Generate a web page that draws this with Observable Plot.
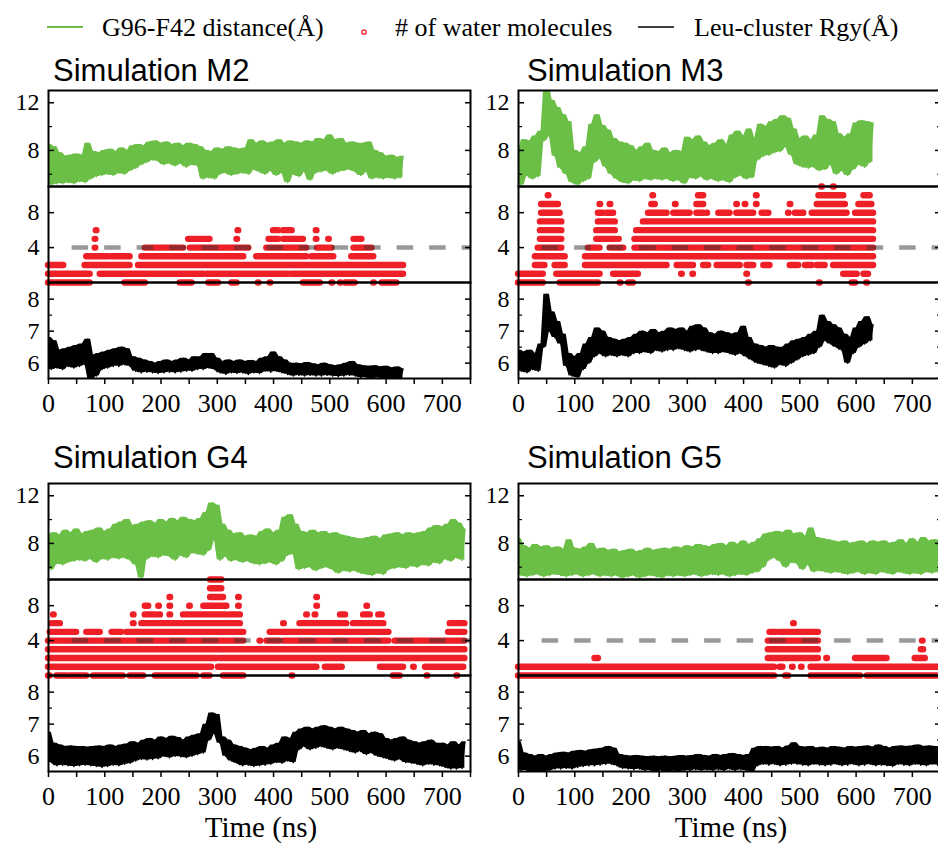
<!DOCTYPE html>
<html>
<head>
<meta charset="utf-8">
<script src="https://cdn.jsdelivr.net/npm/d3@7"></script>
<script src="https://cdn.jsdelivr.net/npm/@observablehq/plot@0.6"></script>
<style>
  body { margin: 0; background: #fff; }
  #wrap { position: relative; width: 938px; height: 844px; overflow: hidden; background: #fff; }
  .ov { position: absolute; left: 0; top: 0; }
</style>
</head>
<body>
<div id="wrap">
  <svg class="ov" width="938" height="844" xmlns="http://www.w3.org/2000/svg">
    <g font-family="'Liberation Serif', 'Times New Roman', serif" font-size="26" fill="#000">
      <line x1="47" y1="27" x2="83" y2="27" stroke="#6BBF47" stroke-width="2"/>
      <text x="102" y="36">G96-F42 distance(Å)</text>
      <circle cx="364" cy="32" r="2.2" fill="none" stroke="#EE1F26" stroke-width="1.3"/>
      <text x="395" y="36"># of water molecules</text>
      <line x1="638" y1="27" x2="674" y2="27" stroke="#000" stroke-width="1.5"/>
      <text x="694" y="36">Leu-cluster Rgy(Å)</text>
    </g>
    <g font-family="'Liberation Sans', Arial, sans-serif" font-size="31" fill="#000">
      <text x="53" y="81">Simulation M2</text>
      <text x="527" y="81">Simulation M3</text>
      <text x="53" y="468">Simulation G4</text>
      <text x="527" y="468">Simulation G5</text>
    </g>
    <g font-family="'Liberation Serif', 'Times New Roman', serif" font-size="29" fill="#000" text-anchor="middle">
      <text x="261" y="837">Time (ns)</text>
      <text x="731" y="837">Time (ns)</text>
    </g>
  </svg>
</div>
<script>
// ---------------- data ----------------
const DT = 5; // sampling step of the time series (ns)

const xDomain = [0, 750];
const xTickLabels = [0, 100, 200, 300, 400, 500, 600, 700];
const xTickMarks = [0, 50, 100, 150, 200, 250, 300, 350, 400, 450, 500, 550, 600, 650, 700, 750];

const greenDomain = [4.97, 13.03];
const greenMajor = [8, 12];
const greenMinor = [6, 10];
const waterDomain = [0, 11];
const waterMajor = [4, 8];
const waterThreshold = 4;
const dashStart = 42;
const rgyDomain = [5.52, 8.52];
const rgyMajor = [6, 7, 8];
const rgyMinor = [6.5, 7.5];

// G96-F42 distance (Å), every 5 ns
const greenM2 = [8.5,5.1,8.3,5.2,7.8,5.2,7.5,5.3,7.6,5.2,
7.7,5.4,7.6,5.3,8.6,5.6,7.9,5.8,7.8,5.9,
8.0,6.0,8.1,5.9,7.9,6.1,8.2,6.0,8.0,6.3,
8.4,6.5,8.5,6.8,8.4,7.0,8.7,7.2,8.8,7.1,
8.6,6.8,8.7,6.9,8.5,6.7,8.6,6.9,8.4,6.6,
8.6,6.8,8.5,6.7,8.3,5.6,8.0,5.7,7.9,5.6,
8.2,6.0,8.1,6.1,8.3,5.9,8.2,6.0,8.1,6.1,
8.2,6.0,8.9,6.4,8.6,6.2,8.8,6.0,8.6,6.3,
8.7,5.9,8.9,6.1,8.6,5.3,8.8,6.0,8.7,5.8,
8.6,6.2,8.8,5.5,8.7,6.1,9.0,6.2,8.9,6.3,
9.3,6.0,8.9,6.2,9.0,6.3,8.6,6.4,8.7,6.2,
8.6,5.9,8.6,6.2,8.7,5.6,8.0,5.7,7.8,5.6,
7.5,5.7,7.6,5.6,7.4,5.7,7.5];

const greenM3 = [7.8,5.1,8.9,5.9,8.8,5.6,9.2,5.8,9.6,8.8,
13.5,9.2,12.2,7.5,11.6,6.5,11.0,6.0,10.4,5.3,
8.0,5.1,7.8,5.4,8.3,5.6,10.2,7.0,11.0,7.3,
10.1,6.6,9.7,6.0,9.0,5.6,8.7,5.3,8.6,5.2,
8.4,5.5,8.0,5.4,8.3,5.6,8.6,5.5,8.0,5.6,
7.9,5.5,8.2,5.6,7.8,5.4,8.0,5.5,7.9,5.2,
9.1,5.7,8.9,5.6,9.2,5.8,8.7,5.5,8.4,5.6,
8.6,5.4,8.9,5.5,8.5,5.3,9.3,5.7,9.6,5.9,
9.2,5.6,9.8,5.7,9.0,7.2,10.2,7.5,10.0,7.6,
10.4,7.8,10.6,7.9,10.9,8.3,10.7,7.6,9.8,6.8,
9.0,6.6,9.2,6.5,8.9,6.6,9.3,6.3,10.9,6.4,
10.6,6.8,10.4,6.0,9.4,6.3,9.1,5.9,9.4,6.4,
10.3,6.8,10.5,6.6,10.4,7.0,10.3];

const greenG4 = [8.6,5.8,8.9,6.3,8.7,6.2,9.1,6.4,8.9,6.5,
9.2,6.6,8.8,6.5,9.0,6.7,9.1,6.4,9.3,6.7,
9.0,6.6,9.2,6.8,9.6,6.7,9.8,6.8,10.0,6.6,
9.5,6.2,9.6,5.1,9.8,6.7,9.9,6.9,9.7,6.8,
10.0,7.0,9.8,6.9,10.1,6.6,9.9,7.0,10.2,6.8,
10.0,7.2,9.9,7.1,10.1,7.0,10.6,7.4,11.4,8.3,
11.2,6.6,9.6,6.9,9.1,6.5,8.8,6.6,8.9,6.4,
8.6,6.5,8.7,6.3,8.6,6.2,9.0,6.3,9.2,6.4,
8.9,6.2,9.1,6.5,10.2,7.0,10.4,7.1,9.6,5.8,
9.0,5.9,8.9,6.0,9.1,5.7,8.9,5.9,9.0,6.0,
8.8,5.8,8.9,5.5,8.7,5.7,8.6,5.6,8.5,5.7,
8.4,5.5,8.4,5.4,8.5,5.3,8.6,5.5,8.4,5.4,
8.7,5.8,8.8,5.9,8.9,6.0,8.7,5.9,8.9,6.1,
8.8,6.0,8.9,6.2,9.0,6.1,9.3,6.4,9.5,6.3,
9.4,6.7,9.6,6.5,10.0,6.8,9.7,6.6,9.2];

const greenG5 = [8.4,5.3,7.8,5.2,7.6,5.3,7.9,5.4,7.7,5.2,
7.8,5.3,7.6,5.4,7.7,5.3,7.5,5.2,8.3,5.3,
7.6,5.4,7.5,5.2,7.7,5.3,8.0,5.4,7.5,5.2,
7.6,5.3,7.4,5.2,7.5,5.3,7.3,5.1,7.4,5.2,
7.5,5.3,7.3,5.1,7.4,5.2,7.6,5.3,7.4,5.2,
7.5,5.1,7.6,5.3,7.5,5.2,7.7,5.3,7.6,5.2,
7.8,5.3,7.7,5.4,7.9,5.2,7.8,5.3,7.7,5.4,
7.9,5.3,8.0,5.4,7.8,5.2,8.1,5.3,7.9,5.4,
8.2,5.3,7.9,5.5,8.1,5.6,8.4,6.0,8.8,6.6,
8.9,6.8,9.0,6.5,8.9,6.0,9.1,6.4,8.8,6.3,
8.9,5.8,8.6,6.2,9.3,5.6,8.5,5.7,8.4,5.6,
8.3,5.5,8.2,5.6,8.1,5.5,8.2,5.4,8.0,5.5,
8.1,5.6,8.2,5.4,8.0,5.5,8.2,5.4,8.1,5.6,
8.2,5.5,8.0,5.4,8.1,5.6,8.3,5.5,8.0,5.4,
8.4,5.5,8.1,5.4,8.5,5.6,8.2,5.5,8.3,5.6,
8.1];

// Leu-cluster Rgy (Å), every 5 ns
const rgyM2 = [6.8,5.8,6.7,5.85,6.4,5.8,6.45,5.9,6.5,5.85,
6.55,5.9,6.6,5.95,6.75,5.5,6.25,5.6,6.3,5.8,
6.35,5.85,6.4,5.9,6.45,5.9,6.5,5.95,6.45,5.9,
6.2,5.75,6.15,5.7,6.1,5.72,6.05,5.7,6.0,5.68,
6.05,5.7,6.1,5.72,6.05,5.7,6.1,5.72,6.15,5.75,
6.1,5.75,6.2,5.8,6.2,5.8,6.3,5.85,6.3,5.8,
6.15,5.7,6.05,5.65,6.1,5.7,6.05,5.68,6.1,5.7,
6.05,5.65,6.08,5.7,6.05,5.68,6.15,5.75,6.2,5.72,
6.35,5.75,6.2,5.7,6.1,5.65,6.0,5.6,6.0,5.62,
5.98,5.6,6.02,5.62,5.98,5.6,5.95,5.6,6.0,5.62,
5.95,5.6,5.92,5.58,5.95,5.6,6.0,5.62,6.05,5.6,
5.95,5.55,5.92,5.55,5.9,5.52,5.92,5.55,5.88,5.52,
5.9,5.5,5.85,5.52,5.88,5.5,5.82];

const rgyM3 = [6.4,5.75,6.35,5.7,6.4,5.8,6.3,5.75,6.6,6.5,
8.15,7.0,7.6,6.8,7.3,6.6,6.9,5.9,6.3,5.6,
6.2,5.55,6.3,5.8,6.6,6.0,6.8,6.2,7.1,6.3,
7.0,6.2,6.8,6.25,6.75,6.2,6.7,6.25,6.75,6.2,
6.8,6.3,6.9,6.3,7.0,6.35,6.95,6.3,7.05,6.4,
6.95,6.35,7.0,6.4,7.1,6.4,7.05,6.45,7.1,6.4,
7.0,6.35,7.15,6.4,7.2,6.4,7.1,6.35,6.95,6.3,
6.9,6.3,7.0,6.35,6.95,6.3,6.9,6.25,6.95,6.3,
7.15,6.2,6.8,6.1,6.6,6.0,6.55,5.95,6.5,5.9,
6.55,5.85,6.5,5.95,6.5,5.9,6.6,6.0,6.7,6.1,
6.75,6.2,6.8,6.25,6.9,6.3,7.0,6.5,7.5,6.7,
7.3,6.6,7.2,6.5,7.1,6.4,6.9,6.0,6.8,6.3,
7.1,6.5,7.3,6.6,7.45,6.7,7.2];

const rgyG4 = [6.75,5.8,6.4,5.7,6.35,5.72,6.3,5.7,6.32,5.68,
6.3,5.7,6.3,5.72,6.28,5.7,6.3,5.68,6.32,5.65,
6.3,5.68,6.35,5.72,6.3,5.7,6.35,5.75,6.38,5.78,
6.45,5.85,6.4,5.9,6.5,5.88,6.55,5.9,6.5,5.92,
6.6,6.0,6.55,5.95,6.62,6.0,6.58,5.98,6.5,5.95,
6.6,6.0,6.65,6.05,6.7,6.1,7.0,6.5,7.35,6.7,
7.3,6.4,6.6,6.0,6.5,5.85,6.35,5.78,6.3,5.7,
6.25,5.72,6.2,5.68,6.25,5.7,6.3,5.72,6.25,5.75,
6.35,5.8,6.4,5.78,6.6,5.85,6.55,5.8,6.75,6.2,
6.85,6.3,6.9,6.2,6.85,6.25,6.9,6.3,6.95,6.25,
6.9,6.2,6.85,6.25,6.9,6.2,6.85,6.15,6.8,6.1,
6.75,6.15,6.8,6.05,6.7,6.1,6.75,6.0,6.7,5.95,
6.55,5.9,6.5,5.85,6.55,5.9,6.6,5.8,6.5,5.78,
6.45,5.75,6.4,5.7,6.45,5.75,6.5,5.72,6.4,5.7,
6.4,5.65,6.35,5.6,6.45,5.6,6.35,5.62,6.45];

const rgyG5 = [6.45,5.55,6.1,5.55,6.05,5.5,6.0,5.52,6.05,5.5,
6.0,5.55,6.05,5.6,6.1,5.6,6.12,5.62,6.1,5.6,
6.15,5.65,6.18,5.68,6.15,5.7,6.2,5.7,6.22,5.72,
6.25,5.75,6.3,5.75,6.25,5.7,6.05,5.62,6.02,5.6,
6.0,5.58,6.02,5.6,6.0,5.55,5.98,5.55,6.0,5.52,
5.98,5.55,6.0,5.5,5.98,5.55,6.0,5.52,6.02,5.55,
6.0,5.55,6.02,5.58,6.05,5.55,6.02,5.57,6.0,5.55,
6.05,5.58,6.02,5.55,6.05,5.6,6.08,5.55,6.05,5.58,
6.02,5.55,6.05,5.52,6.25,5.7,6.3,5.75,6.3,5.72,
6.28,5.75,6.3,5.7,6.25,5.72,6.32,5.75,6.42,5.75,
6.3,5.72,6.28,5.7,6.3,5.75,6.25,5.72,6.28,5.7,
6.25,5.72,6.3,5.75,6.28,5.7,6.25,5.72,6.3,5.75,
6.28,5.7,6.3,5.72,6.32,5.75,6.28,5.7,6.35,5.72,
6.3,5.7,6.25,5.68,6.3,5.75,6.32,5.72,6.3,5.7,
6.32,5.75,6.35,5.72,6.3,5.7,6.32,5.75,6.3,5.72,
6.28];

// # of water molecules: [count, from ns, to ns] runs of dense points
const waterM2 = [
 [0,0,74],[0,136,172],[0,234,255],[0,285,302],[0,326,335],[0,373,374],[0,394,395],[0,453,483],[0,504,505],[0,519,520],[0,528,545],[0,578,579],[0,593,619],
 [1,0,74],[1,92,276],[1,282,427],[1,433,631],
 [2,0,27],[2,65,145],[2,160,462],[2,465,631],
 [3,68,107],[3,113,145],[3,166,347],[3,370,459],[3,468,507],[3,539,578],
 [4,83,84],[4,172,240],[4,252,356],[4,388,459],[4,478,490],[4,495,504],[4,543,575],
 [5,83,84],[5,249,287],[5,335,336],[5,392,409],[5,418,453],[5,476,477],[5,498,499],[5,543,557],
 [6,85,86],[6,337,338],[6,400,409],[6,418,433],[6,476,477]
];
const waterM3 = [
 [0,0,44],[0,74,142],[0,181,182],[0,196,204],[0,409,410],[0,535,536],[0,593,599],[0,619,620],
 [1,0,44],[1,68,145],[1,169,213],[1,290,291],[1,310,311],[1,406,407],[1,578,602],[1,614,622],
 [2,30,47],[2,65,83],[2,119,264],[2,282,311],[2,329,338],[2,353,394],[2,406,418],[2,436,447],[2,483,498],[2,510,522],[2,531,545],[2,560,631],
 [3,30,83],[3,119,631],
 [4,35,77],[4,124,145],[4,163,187],[4,207,631],
 [5,39,77],[5,139,172],[5,178,179],[5,207,631],
 [6,39,77],[6,139,172],[6,210,631],
 [7,39,77],[7,142,172],[7,222,631],
 [8,41,74],[8,142,151],[8,157,169],[8,231,264],[8,276,305],[8,317,329],[8,335,336],[8,356,376],[8,388,418],[8,433,445],[8,480,481],[8,492,507],[8,522,584],[8,599,631],
 [9,41,71],[9,145,146],[9,163,164],[9,237,243],[9,279,280],[9,317,329],[9,388,389],[9,403,404],[9,423,424],[9,483,484],[9,531,581],[9,605,628],
 [10,53,54],[10,239,240],[10,320,329],[10,423,424],[10,534,578],[10,614,625],
 [11,539,540],[11,560,561]
];
const waterG4 = [
 [0,0,3],[0,15,33],[0,38,68],[0,80,133],[0,145,169],[0,190,264],[0,276,287],[0,311,347],[0,433,434],[0,613,625],[0,673,674],[0,726,727],
 [1,0,290],[1,302,477],[1,492,522],[1,590,631],[1,649,650],[1,670,738],
 [2,0,299],[2,305,740],
 [3,0,740],
 [4,0,347],[4,376,377],[4,388,412],[4,418,605],[4,616,740],
 [5,3,50],[5,68,92],[5,113,130],[5,139,347],[5,394,605],[5,711,740],
 [6,6,21],[6,151,152],[6,166,237],[6,243,341],[6,418,419],[6,447,530],[6,542,596],[6,714,740],
 [7,9,10],[7,151,152],[7,172,190],[7,196,199],[7,216,217],[7,240,317],[7,323,341],[7,459,460],[7,474,475],[7,519,528],[7,560,572],[7,587,593],
 [8,172,178],[8,196,197],[8,216,217],[8,251,252],[8,276,317],[8,338,339],[8,477,478],[8,566,567],
 [9,216,217],[9,288,311],[9,338,339],[9,477,478],
 [10,288,308],
 [11,288,308]
];
const waterG5 = [
 [0,0,455],[0,475,480],[0,520,608],[0,620,750],
 [1,0,455],[1,465,470],[1,487,488],[1,503,504],[1,520,750],
 [2,136,142],[2,444,533],[2,548,549],[2,599,655],[2,705,723],
 [3,444,533],[3,716,720],
 [4,444,533],[4,718,719],
 [5,447,459],[5,465,533],
 [6,489,490]
];

// ---------------- drawing ----------------
const GREEN = "#6BBF47", RED = "#EE1F26", INK = "#000";
const wrap = document.getElementById("wrap");

const panels = [
  {left: 0,   top: 89.5, green: greenM2, water: waterM2, rgy: rgyM2},
  {left: 470, top: 89.5, green: greenM3, water: waterM3, rgy: rgyM3},
  {left: 0,   top: 483,  green: greenG4, water: waterG4, rgy: rgyG4},
  {left: 470, top: 483,  green: greenG5, water: waterG5, rgy: rgyG5}
];

// fluctuation band of a noisy trace: extent of each sample and its neighbours
function band(v) {
  return v.map((d, i) => {
    const w = [v[Math.max(0, i - 1)], d, v[Math.min(v.length - 1, i + 1)]];
    return {t: i * DT, lo: d3.min(w), hi: d3.max(w)};
  });
}

const FRAME_H = 96;
function base(mt, mb) {
  return {
    width: 472, height: FRAME_H + mt + mb,
    marginLeft: 48, marginRight: 2, marginTop: mt, marginBottom: mb,
    style: {background: "transparent", overflow: "visible",
            fontFamily: "'Liberation Serif', 'Times New Roman', serif", fontSize: "24px", color: INK}
  };
}
function yAxisMarks(major, minor) {
  const m = [
    Plot.axisY(major, {anchor: "left", tickSize: 6, dx: 6, fill: "none", strokeWidth: 1.5}),
    Plot.axisY(major, {anchor: "right", tickSize: 6, dx: -6, fill: "none", strokeWidth: 1.5}),
    Plot.axisY(major, {anchor: "left", tickSize: 0, tickPadding: 9, label: null, fontSize: 24, fill: INK})
  ];
  if (minor.length) {
    m.push(Plot.axisY(minor, {anchor: "left", tickSize: 4, dx: 4, fill: "none", strokeWidth: 1.2}));
    m.push(Plot.axisY(minor, {anchor: "right", tickSize: 4, dx: -4, fill: "none", strokeWidth: 1.2}));
  }
  return m;
}
function traceMarks(v, color, w) {
  return [
    Plot.areaY(band(v), {x: "t", y1: "lo", y2: "hi", fill: color, clip: true}),
    Plot.line(v, {x: (d, i) => i * DT, y: d => d, stroke: color, strokeWidth: w, clip: true})
  ];
}
function place(svg, left, top) {
  svg.style.position = "absolute";
  svg.style.left = left + "px";
  svg.style.top = top + "px";
  wrap.appendChild(svg);
}

for (const p of panels) {
  const green = Plot.plot({
    ...base(2, 2),
    x: {domain: xDomain, axis: null},
    y: {domain: greenDomain},
    marks: [
      ...traceMarks(p.green, GREEN, 1.6),
      ...yAxisMarks(greenMajor, greenMinor),
      Plot.frame({stroke: INK, strokeWidth: 2})
    ]
  });
  place(green, p.left, p.top - 2);

  const water = Plot.plot({
    ...base(2, 2),
    x: {domain: xDomain, axis: null},
    y: {domain: waterDomain},
    marks: [
      Plot.ruleY(p.water, {y: d => d[0], x1: d => d[1], x2: d => d[2], stroke: RED, strokeWidth: 6.4, strokeLinecap: "round"}),
      Plot.ruleY([waterThreshold], {x1: () => dashStart, x2: () => xDomain[1], stroke: "#333", strokeOpacity: 0.5, strokeWidth: 4.5, strokeDasharray: "16.5,16"}),
      ...yAxisMarks(waterMajor, []),
      Plot.frame({stroke: INK, strokeWidth: 2})
    ]
  });
  place(water, p.left, p.top + FRAME_H - 2);

  const rgy = Plot.plot({
    ...base(2, 45),
    x: {domain: xDomain},
    y: {domain: rgyDomain},
    marks: [
      ...traceMarks(p.rgy, INK, 1.6),
      ...yAxisMarks(rgyMajor, rgyMinor),
      Plot.axisX(xTickMarks, {anchor: "bottom", tickSize: 6, fill: "none", strokeWidth: 1.5}),
      Plot.axisX(xTickLabels, {anchor: "bottom", tickSize: 0, tickPadding: 15, label: null, fontSize: 26, fill: INK}),
      Plot.frame({stroke: INK, strokeWidth: 2})
    ]
  });
  place(rgy, p.left, p.top + 2 * FRAME_H - 2);
}
</script>
</body>
</html>
